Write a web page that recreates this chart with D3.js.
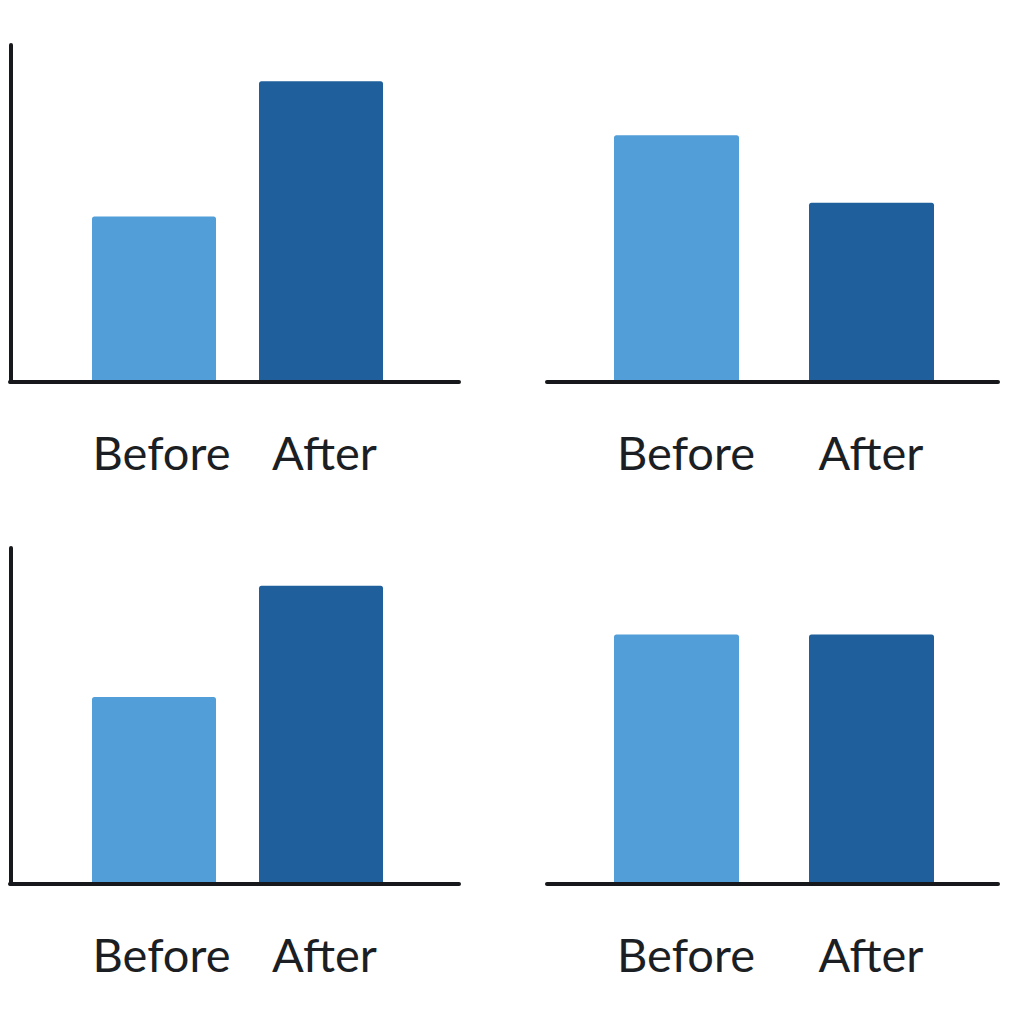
<!DOCTYPE html>
<html>
<head>
<meta charset="utf-8">
<script src="https://cdn.jsdelivr.net/npm/d3@7"></script>
<style>
  html, body { margin: 0; padding: 0; background: #ffffff; }
  svg { display: block; }
</style>
</head>
<body>
<svg id="chart" width="1024" height="1024"></svg>
<script>
// ---- data ----
const categories = ["Before", "After"];
const panelTopLeft = [49, 89];
const panelTopRight = [73, 53];
const panelBottomLeft = [55.5, 88.5];
const panelBottomRight = [74, 74];
const yMax = 100;

// ---- layout (positions/styles only) ----
const colors = ["#519ed8", "#1f5f9c"];
const panels = [
  { values: panelTopLeft,     base: 382, top: 44,  axisX: [10, 459],  yAxis: true,  bars: [92, 383],  labels: [161.5, 324.5] },
  { values: panelTopRight,    base: 382, top: 44,  axisX: [547, 998], yAxis: false, bars: [614, 934], labels: [686, 871] },
  { values: panelBottomLeft,  base: 884, top: 547, axisX: [10, 459],  yAxis: true,  bars: [92, 383],  labels: [161.5, 324.5] },
  { values: panelBottomRight, base: 884, top: 547, axisX: [547, 998], yAxis: false, bars: [614, 934], labels: [686, 871] }
];
const barWidths = [124, 125, 124, 125];

const svg = d3.select("#chart");

panels.forEach((p, i) => {
  const g = svg.append("g");
  const y = d3.scaleLinear().domain([0, yMax]).range([p.base, p.top]);
  const span = p.bars[1] - p.bars[0];
  const bw = barWidths[i];
  const gap = span - 2 * bw;
  const inner = gap / (bw + gap);
  const x = d3.scaleBand().domain(categories).range(p.bars).paddingInner(inner).paddingOuter(0);
  const xl = d3.scalePoint().domain(categories).range(p.labels);

  g.selectAll("path.bar")
    .data(categories.map((c, k) => ({ c, v: p.values[k], k })))
    .join("path")
    .attr("class", "bar")
    .attr("fill", d => colors[d.k])
    .attr("d", d => {
      const x0 = x(d.c), w = x.bandwidth(), y0 = y(d.v), y1 = y(0), r = 2.5;
      return `M${x0},${y1} L${x0},${y0 + r} Q${x0},${y0} ${x0 + r},${y0} L${x0 + w - r},${y0} Q${x0 + w},${y0} ${x0 + w},${y0 + r} L${x0 + w},${y1} Z`;
    });

  // x baseline
  g.append("line")
    .attr("x1", p.axisX[0]).attr("x2", p.axisX[1])
    .attr("y1", y(0)).attr("y2", y(0))
    .attr("stroke", "#16181b").attr("stroke-width", 4).attr("stroke-linecap", "round");

  if (p.yAxis) {
    g.append("line")
      .attr("x1", p.axisX[0] + 1).attr("x2", p.axisX[0] + 1)
      .attr("y1", y(yMax) + 1).attr("y2", y(0))
      .attr("stroke", "#16181b").attr("stroke-width", 4).attr("stroke-linecap", "round");
  }

  g.selectAll("text.lbl")
    .data(categories)
    .join("text")
    .attr("class", "lbl")
    .attr("x", d => xl(d))
    .attr("y", y(0) + 88)
    .attr("text-anchor", "middle")
    .attr("font-family", "Lato, 'Noto Sans', sans-serif")
    .attr("font-size", 47)
    .attr("fill", "#1b1e22")
    .text(d => d);
});
</script>
</body>
</html>
